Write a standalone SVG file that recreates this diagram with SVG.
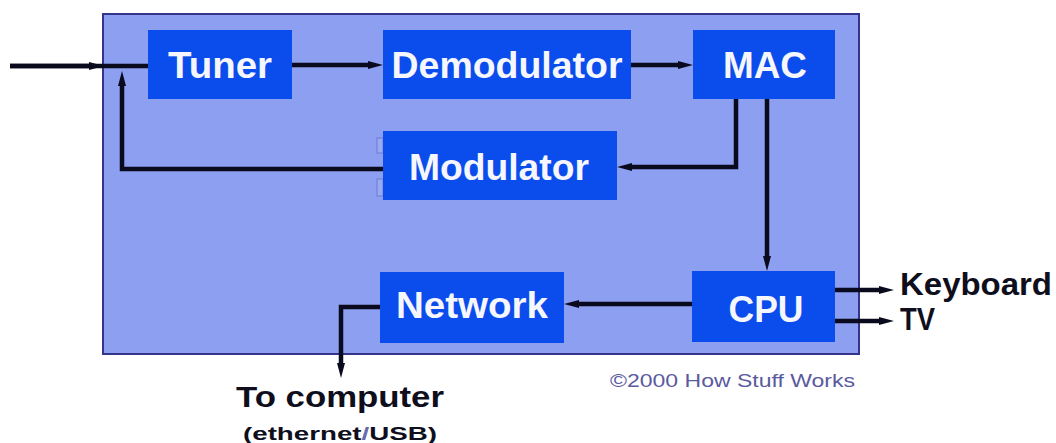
<svg xmlns="http://www.w3.org/2000/svg" width="1056" height="443" viewBox="0 0 1056 443">
  <style>
    .panel { fill: #8c9ff1; stroke: #34348a; stroke-width: 2; }
    .box { fill: #0b4dec; }
    .lbl { font-family: "Liberation Sans", Arial, sans-serif; font-weight: bold; font-size: 36px; fill: #f6f6ff; text-anchor: middle; }
    .wire { fill: none; stroke: #0a0a1e; stroke-width: 4.5; stroke-linejoin: miter; }
    .ext { font-family: "Liberation Sans", Arial, sans-serif; font-weight: bold; fill: #0e0e1c; }
    .copy { font-family: "Liberation Sans", Arial, sans-serif; font-size: 19px; fill: #5a5a9e; }
    .tab { fill: #9aaaf2; stroke: #6e7ad0; stroke-width: 1; }
  </style>
  <defs>
    <marker id="arrow" markerUnits="userSpaceOnUse" markerWidth="18" markerHeight="12" refX="4" refY="6" orient="auto">
      <path d="M0,2 L15,6 L0,10 Z" fill="#0a0a1e"/>
    </marker>
  </defs>

  <rect class="panel" x="103" y="14" width="756" height="340"/>

  <g id="connectors">
    <!-- antenna input -->
    <path class="wire" d="M10,66 L148,66"/>
    <path class="wire" d="M10,66 L93,66" marker-end="url(#arrow)"/>
    <!-- modulator feedback to input -->
    <path class="wire" d="M383,169 L122,169 L122,82" marker-end="url(#arrow)"/>
    <path class="wire" d="M292,65 L372,65" marker-end="url(#arrow)"/>
    <path class="wire" d="M631,65 L682,65" marker-end="url(#arrow)"/>
    <path class="wire" d="M736,99 L736,167 L628,167" marker-end="url(#arrow)"/>
    <path class="wire" d="M767,99 L767,260" marker-end="url(#arrow)"/>
    <path class="wire" d="M692,304 L575,304" marker-end="url(#arrow)"/>
    <path class="wire" d="M835,290 L883,290" marker-end="url(#arrow)"/>
    <path class="wire" d="M835,321 L883,321" marker-end="url(#arrow)"/>
    <path class="wire" d="M380,307 L341,307 L341,367" marker-end="url(#arrow)"/>
  </g>

  <g id="tuner">
    <rect class="box" x="148" y="30" width="144" height="69"/>
    <text class="lbl" x="220" y="78" textLength="104" lengthAdjust="spacingAndGlyphs">Tuner</text>
  </g>
  <g id="demodulator">
    <rect class="box" x="383" y="30" width="248" height="69"/>
    <text class="lbl" x="507" y="78" textLength="231" lengthAdjust="spacingAndGlyphs">Demodulator</text>
  </g>
  <g id="mac">
    <rect class="box" x="693" y="30" width="142" height="69"/>
    <text class="lbl" x="765" y="78" textLength="84" lengthAdjust="spacingAndGlyphs">MAC</text>
  </g>
  <g id="modulator">
    <rect class="tab" x="377" y="138" width="6" height="15"/>
    <rect class="tab" x="377" y="179" width="6" height="17"/>
    <rect class="box" x="383" y="131" width="234" height="69"/>
    <text class="lbl" x="499" y="180" textLength="180" lengthAdjust="spacingAndGlyphs">Modulator</text>
  </g>
  <g id="network">
    <rect class="box" x="380" y="272" width="184" height="71"/>
    <text class="lbl" x="472" y="318" textLength="152" lengthAdjust="spacingAndGlyphs">Network</text>
  </g>
  <g id="cpu">
    <rect class="box" x="692" y="271" width="143" height="71"/>
    <text class="lbl" x="766" y="322" textLength="75" lengthAdjust="spacingAndGlyphs">CPU</text>
  </g>

  <g id="outputs">
    <text class="ext" x="900" y="295" font-size="31" textLength="152" lengthAdjust="spacingAndGlyphs">Keyboard</text>
    <text class="ext" x="900" y="330" font-size="31" textLength="35" lengthAdjust="spacingAndGlyphs">TV</text>
    <text class="ext" x="340" y="407" font-size="30" text-anchor="middle" textLength="208" lengthAdjust="spacingAndGlyphs">To computer</text>
    <text class="ext" x="340" y="440" font-size="19" text-anchor="middle" textLength="194" lengthAdjust="spacingAndGlyphs">(ethernet<tspan fill="#6a6aaa">/</tspan>USB)</text>
  </g>

  <text class="copy" x="610" y="387" textLength="245" lengthAdjust="spacingAndGlyphs">©2000 How Stuff Works</text>
</svg>
